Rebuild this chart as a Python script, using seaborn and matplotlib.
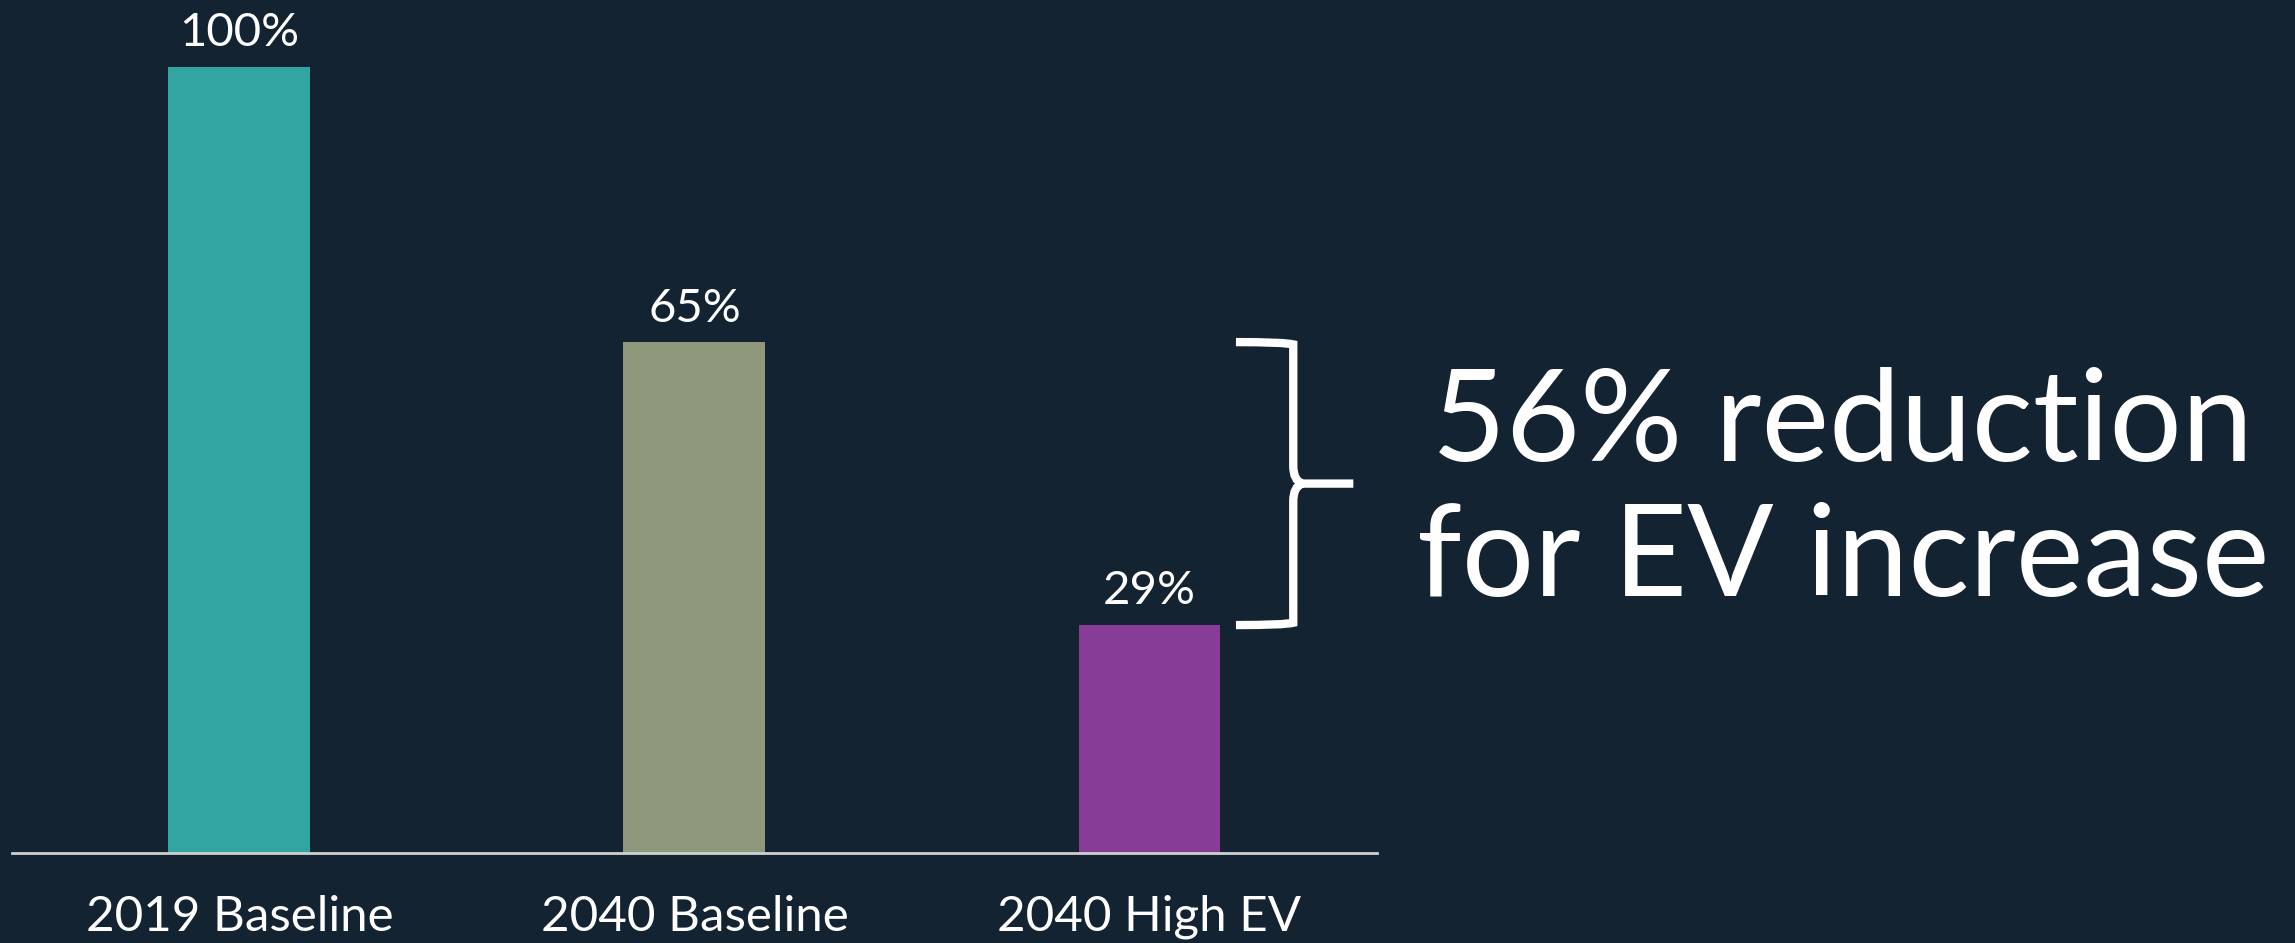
import matplotlib
matplotlib.use("Agg")
import matplotlib.pyplot as plt
import seaborn as sns
import pandas as pd
from matplotlib.path import Path
from matplotlib.patches import PathPatch

scenarios = ["2019 Baseline", "2040 Baseline", "2040 High EV"]
share = [100, 65, 29]
bar_colors = ["#31A6A0", "#8F977A", "#873C96"]
note = "56% reduction\nfor EV increase"

bg = "#132332"
sns.set_theme(style="white")
plt.rcParams["font.family"] = ["Lato", "DejaVu Sans"]

df = pd.DataFrame({"scenario": scenarios, "share": share})

fig = plt.figure(figsize=(22.95, 9.43), dpi=100, facecolor=bg)
ax = fig.add_axes([0.0052, 0.0954, 0.5948, 0.8336])
ax.set_facecolor(bg)

sns.barplot(data=df, x="scenario", y="share", hue="scenario",
            palette=bar_colors, width=0.312, legend=False, ax=ax,
            saturation=1, linewidth=0)

ax.set_xlim(-0.5, 2.5)
ax.set_ylim(0, 100)
for s in ["top", "left", "right"]:
    ax.spines[s].set_visible(False)
ax.spines["bottom"].set_color("#d0d0d0")
ax.spines["bottom"].set_linewidth(2)
ax.set_yticks([])
ax.set_xlabel("")
ax.set_ylabel("")
ax.tick_params(axis="x", length=0, pad=30, labelsize=35.5, colors="white")

for i, v in enumerate(share):
    ax.text(i, v + 1.6, f"{v}%", ha="center", va="bottom",
            color="white", fontsize=34)

# curly brace between the 2040 bars
lo, hi = share[2], share[1]
mid = (lo + hi) / 2
x0, x1, x2 = 2.19, 2.316, 2.448
r = 2.2
verts = [(x0, hi), (x1 - 0.02, hi), (x1, hi - 0.3), (x1, hi - r),
         (x1, mid + r), (x1, mid + 0.4), (x1 + 0.02, mid), (x2, mid),
         (x1 + 0.02, mid), (x1, mid - 0.4), (x1, mid - r),
         (x1, lo + r), (x1, lo + 0.3), (x1 - 0.02, lo), (x0, lo)]
codes = [Path.MOVETO, Path.CURVE3, Path.CURVE3, Path.LINETO,
         Path.LINETO, Path.CURVE3, Path.CURVE3, Path.LINETO,
         Path.MOVETO, Path.CURVE3, Path.CURVE3, Path.LINETO,
         Path.LINETO, Path.CURVE3, Path.CURVE3]
ax.add_patch(PathPatch(Path(verts, codes), fill=False, edgecolor="white",
                       lw=6, clip_on=False, capstyle="butt"))

fig.text(0.803, 0.478, note, ha="center", va="center", color="white",
         fontsize=92, linespacing=1.2)

fig.savefig("out.png", dpi=100, facecolor=bg)
